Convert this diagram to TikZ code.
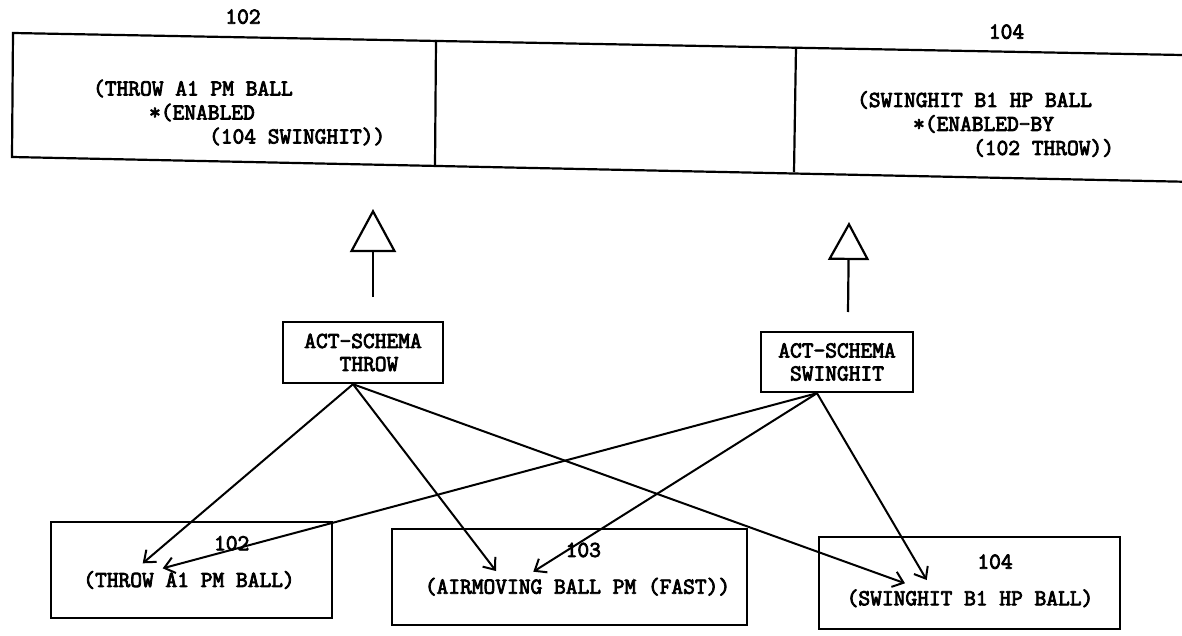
\documentclass[tikz,border=0pt]{standalone}
\usepackage{fontspec}
\newfontfamily\typefont[FakeBold=3.5]{Latin Modern Mono}
\usetikzlibrary{arrows.meta}
\begin{document}
\begin{tikzpicture}[x=0.5pt,y=-0.5pt,
  line width=1.1pt,
  tw/.style={font=\fontsize{11.4pt}{12pt}\selectfont\typefont, inner sep=0pt},
  card/.style={draw, line width=1.2pt, inner sep=0pt},
  schema/.style={card, tw, align=center, font=\fontsize{11.4pt}{11.5pt}\selectfont\typefont},
  link/.style={line width=1pt, -{Straight Barb[length=5pt,width=8pt]}},
  isa/.style={line width=1.1pt},
]
\useasboundingbox (0,0) rectangle (1182,636);

% ---- memory strip with its cells ----
\draw (1182,55) -- (13,33) -- (12,157) -- (1182,181.7);
\draw (436,40) -- (435,166);
\draw (796,47) -- (794,172);

\node[tw] (lbl102) at (243,16.7) {102};
\node[tw] (lbl104) at (1006.5,31.7) {104};

\node[tw, anchor=west, align=left] (throwfact) at (92,112.5)
  {(THROW A1 PM BALL\\\hspace*{28pt}*(ENABLED\\\hspace*{58pt}(104 SWINGHIT))};
\node[tw, anchor=west, align=left] (swingfact) at (856,124)
  {(SWINGHIT B1 HP BALL\\\hspace*{28pt}*(ENABLED-BY\\\hspace*{58pt}(102 THROW))};

% ---- generalisation marks ----
\coordinate (g1top) at (373,209);
\coordinate (g1foot) at (373,297);
\coordinate (g2top) at (849,222);
\coordinate (g2foot) at (848,312);
\draw[isa, -{Triangle[open,length=21.5pt,width=23pt]}] (g1foot) -- (g1top);
\draw[isa, -{Triangle[open,length=19pt,width=20.5pt]}] (g2foot) -- (g2top);

% ---- act schemas ----
\node[schema, minimum width=80pt, minimum height=30.5pt] (throw) at (363,352.5)
  {ACT-SCHEMA\\\hspace*{6pt}THROW};
\node[schema, minimum width=76pt, minimum height=30pt] (swing) at (837,362)
  {ACT-SCHEMA\\SWINGHIT};

% ---- instance boxes ----
\node[card, minimum width=140.5pt, minimum height=48pt] (box1) at (191.5,570) {};
\node[card, minimum width=177.5pt, minimum height=48pt] (box2) at (569.5,577) {};
\node[card, minimum width=150.5pt, minimum height=46pt] (box3) at (969.5,583) {};

\node[tw] (t1) at (189,580) {(THROW A1 PM BALL)};
\node[tw] (n1) at (231.7,543.3) {102};
\node[tw] (t2) at (577.5,586.7) {(AIRMOVING BALL PM (FAST))};
\node[tw] (n2) at (583.3,550) {103};
\node[tw] (t3) at (970,598.3) {(SWINGHIT B1 HP BALL)};
\node[tw] (n3) at (995,561.7) {104};

% ---- links from schemas to instances ----
\coordinate (ts) at ([xshift=-5pt]throw.south);
\coordinate (ss) at ([xshift=-10pt]swing.south);
\coordinate (a1) at (142.7,563.3);
\coordinate (a2) at (496,571);
\coordinate (a3) at (905,583.3);
\coordinate (b1) at (162.7,568.3);
\coordinate (b2) at (533.3,571.7);
\coordinate (b3) at (926.7,580);

\draw[link] (ts) -- (a1);
\draw[link] (ts) -- (a2);
\draw[link] (ts) -- (a3);
\draw[link] (ss) -- (b1);
\draw[link] (ss) -- (b2);
\draw[link] (ss) -- (b3);
\end{tikzpicture}
\end{document}
